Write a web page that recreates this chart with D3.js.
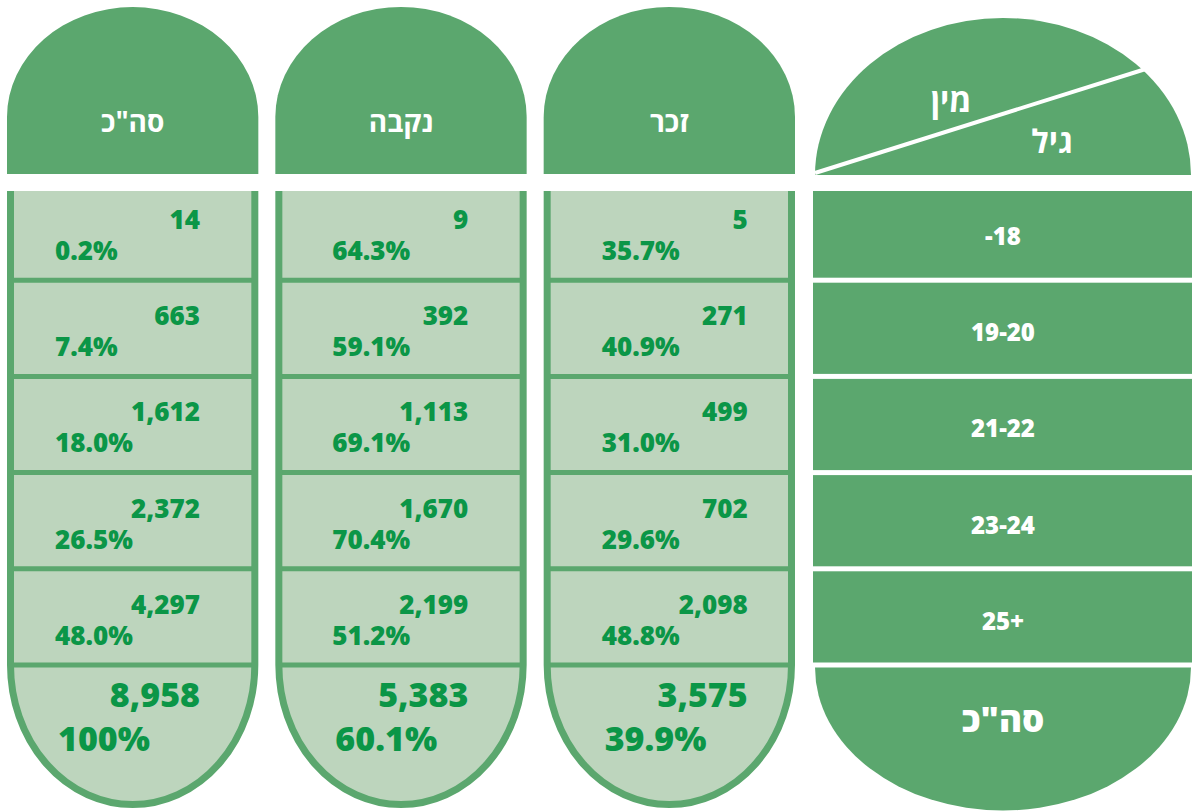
<!DOCTYPE html>
<html>
<head>
<meta charset="utf-8">
<script src="https://cdn.jsdelivr.net/npm/d3@7"></script>
<style>
  body { margin: 0; background: #fff; }
  svg { display: block; }
  text { font-family: "Open Sans", "DejaVu Sans", sans-serif; }
</style>
</head>
<body>
<svg class="chart" width="1192" height="812"></svg>
<script>
const ageGroups = ['-18', '19-20', '21-22', '23-24', '25+'];
const columnTitles = ['סה"כ', 'נקבה', 'זכר'];
const totalCounts = [14, 663, 1612, 2372, 4297];
const totalShares = [0.2, 7.4, 18.0, 26.5, 48.0];
const femaleCounts = [9, 392, 1113, 1670, 2199];
const femaleShares = [64.3, 59.1, 69.1, 70.4, 51.2];
const maleCounts = [5, 271, 499, 702, 2098];
const maleShares = [35.7, 40.9, 31.0, 29.6, 48.8];
const grandCounts = [8958, 5383, 3575];
const grandShares = [100, 60.1, 39.9];
const cornerLabels = ['מין', 'גיל'];
const totalLabel = 'סה"כ';

const green = '#5ba76e';
const light = '#bdd5bd';
const textGreen = '#0b9647';

const series = columnTitles.map((t, i) => ({
  title: t,
  counts: [totalCounts, femaleCounts, maleCounts][i],
  shares: [totalShares, femaleShares, maleShares][i],
  grand: grandCounts[i],
  grandShare: grandShares[i]
}));

const fmtCount = d3.format(',');
const fmtShare = (v) => (v === 100 ? '100%' : d3.format('.1f')(v) + '%');

const svg = d3.select('.chart');

const x = d3.scaleBand().domain(columnTitles).range([7, 795]).paddingInner(0.0634);
const y = d3.scaleBand().domain(ageGroups).range([184, 665]);
const bw = x.bandwidth();
const bodyTop = 191;
const bodyEnd = y.range()[1];

// text offsets inside each column (number right edge, percent left edge)
const numOff = [193, 193, 204];
const pctOff = [48, 57, 58];

series.forEach((s, i) => {
  const g = svg.append('g');
  const left = x(s.title);
  const x0 = left + 3.5;
  const x1 = left + bw - 3.5;
  const rx = (x1 - x0) / 2;
  const ry = 139.5;

  // body fill
  g.append('path')
    .attr('d', `M${x0},${bodyTop} V${bodyEnd} A${rx},${ry} 0 0 0 ${x1},${bodyEnd} V${bodyTop} Z`)
    .attr('fill', light);

  // row separators
  g.selectAll('.sep')
    .data(ageGroups.slice(1).map((d) => y(d)).concat([bodyEnd]))
    .enter().append('line')
    .attr('x1', x0).attr('x2', x1)
    .attr('y1', (d) => d).attr('y2', (d) => d)
    .attr('stroke', green)
    .attr('stroke-width', 5);

  // outer border (open at the top)
  g.append('path')
    .attr('d', `M${x0},${bodyTop} V${bodyEnd} A${rx},${ry} 0 0 0 ${x1},${bodyEnd} V${bodyTop}`)
    .attr('fill', 'none')
    .attr('stroke', green)
    .attr('stroke-width', 7);

  // header cap
  g.append('path')
    .attr('d', `M${left},174 V117 A${bw / 2},110 0 0 1 ${left + bw},117 V174 Z`)
    .attr('fill', green);

  g.append('text')
    .attr('x', left + bw / 2)
    .attr('y', 132)
    .attr('text-anchor', 'middle')
    .attr('fill', '#fff')
    .attr('font-size', 28)
    .attr('font-weight', 700)
    .text(s.title);

  // cells
  ageGroups.forEach((a, j) => {
    g.append('text')
      .attr('x', left + numOff[i])
      .attr('y', y(a) + 45)
      .attr('text-anchor', 'end')
      .attr('fill', textGreen)
      .attr('font-size', 26)
      .attr('font-weight', 800)
      .text(fmtCount(s.counts[j]));
    g.append('text')
      .attr('x', left + pctOff[i])
      .attr('y', y(a) + 76)
      .attr('fill', textGreen)
      .attr('font-size', 26)
      .attr('font-weight', 800)
      .text(fmtShare(s.shares[j]));
  });

  // totals
  g.append('text')
    .attr('x', left + numOff[i])
    .attr('y', bodyEnd + 42)
    .attr('text-anchor', 'end')
    .attr('fill', textGreen)
    .attr('font-size', 34)
    .attr('font-weight', 800)
    .text(fmtCount(s.grand));
  g.append('text')
    .attr('x', left + pctOff[i] + 3)
    .attr('y', bodyEnd + 86)
    .attr('fill', textGreen)
    .attr('font-size', 34)
    .attr('font-weight', 800)
    .text(fmtShare(s.grandShare));
});

// label column
const lx0 = 815;
const lx1 = 1191;
const lc = (lx0 + lx1) / 2;
const lg = svg.append('g');

lg.append('path')
  .attr('d', `M${lx0},175 A${(lx1 - lx0) / 2},157 0 0 1 ${lx1},175 Z`)
  .attr('fill', green);

lg.append('line')
  .attr('x1', lx0).attr('y1', 173)
  .attr('x2', 1152).attr('y2', 67)
  .attr('stroke', '#fff')
  .attr('stroke-width', 4);

lg.append('text')
  .attr('x', 951).attr('y', 112)
  .attr('text-anchor', 'middle')
  .attr('fill', '#fff')
  .attr('font-size', 32)
  .attr('font-weight', 700)
  .text(cornerLabels[0]);

lg.append('text')
  .attr('x', 1052).attr('y', 153)
  .attr('text-anchor', 'middle')
  .attr('fill', '#fff')
  .attr('font-size', 32)
  .attr('font-weight', 700)
  .text(cornerLabels[1]);

lg.selectAll('.row')
  .data(ageGroups)
  .enter().append('rect')
  .attr('x', 813)
  .attr('width', 1192 - 813)
  .attr('y', (d) => Math.max(bodyTop, y(d) + 2.5))
  .attr('height', (d) => y(d) + y.step() - 2.5 - Math.max(bodyTop, y(d) + 2.5))
  .attr('fill', green);

lg.selectAll('.rowlabel')
  .data(ageGroups)
  .enter().append('text')
  .attr('x', lc)
  .attr('y', (d) => y(d) + 61)
  .attr('text-anchor', 'middle')
  .attr('fill', '#fff')
  .attr('font-size', 24)
  .attr('font-weight', 800)
  .text((d) => d);

lg.append('path')
  .attr('d', `M${lx0},${bodyEnd + 2.5} A${(lx1 - lx0) / 2},143 0 0 0 ${lx1},${bodyEnd + 2.5} Z`)
  .attr('fill', green);

lg.append('text')
  .attr('x', lc).attr('y', 732)
  .attr('text-anchor', 'middle')
  .attr('fill', '#fff')
  .attr('font-size', 35)
  .attr('font-weight', 800)
  .text(totalLabel);
</script>
</body>
</html>
